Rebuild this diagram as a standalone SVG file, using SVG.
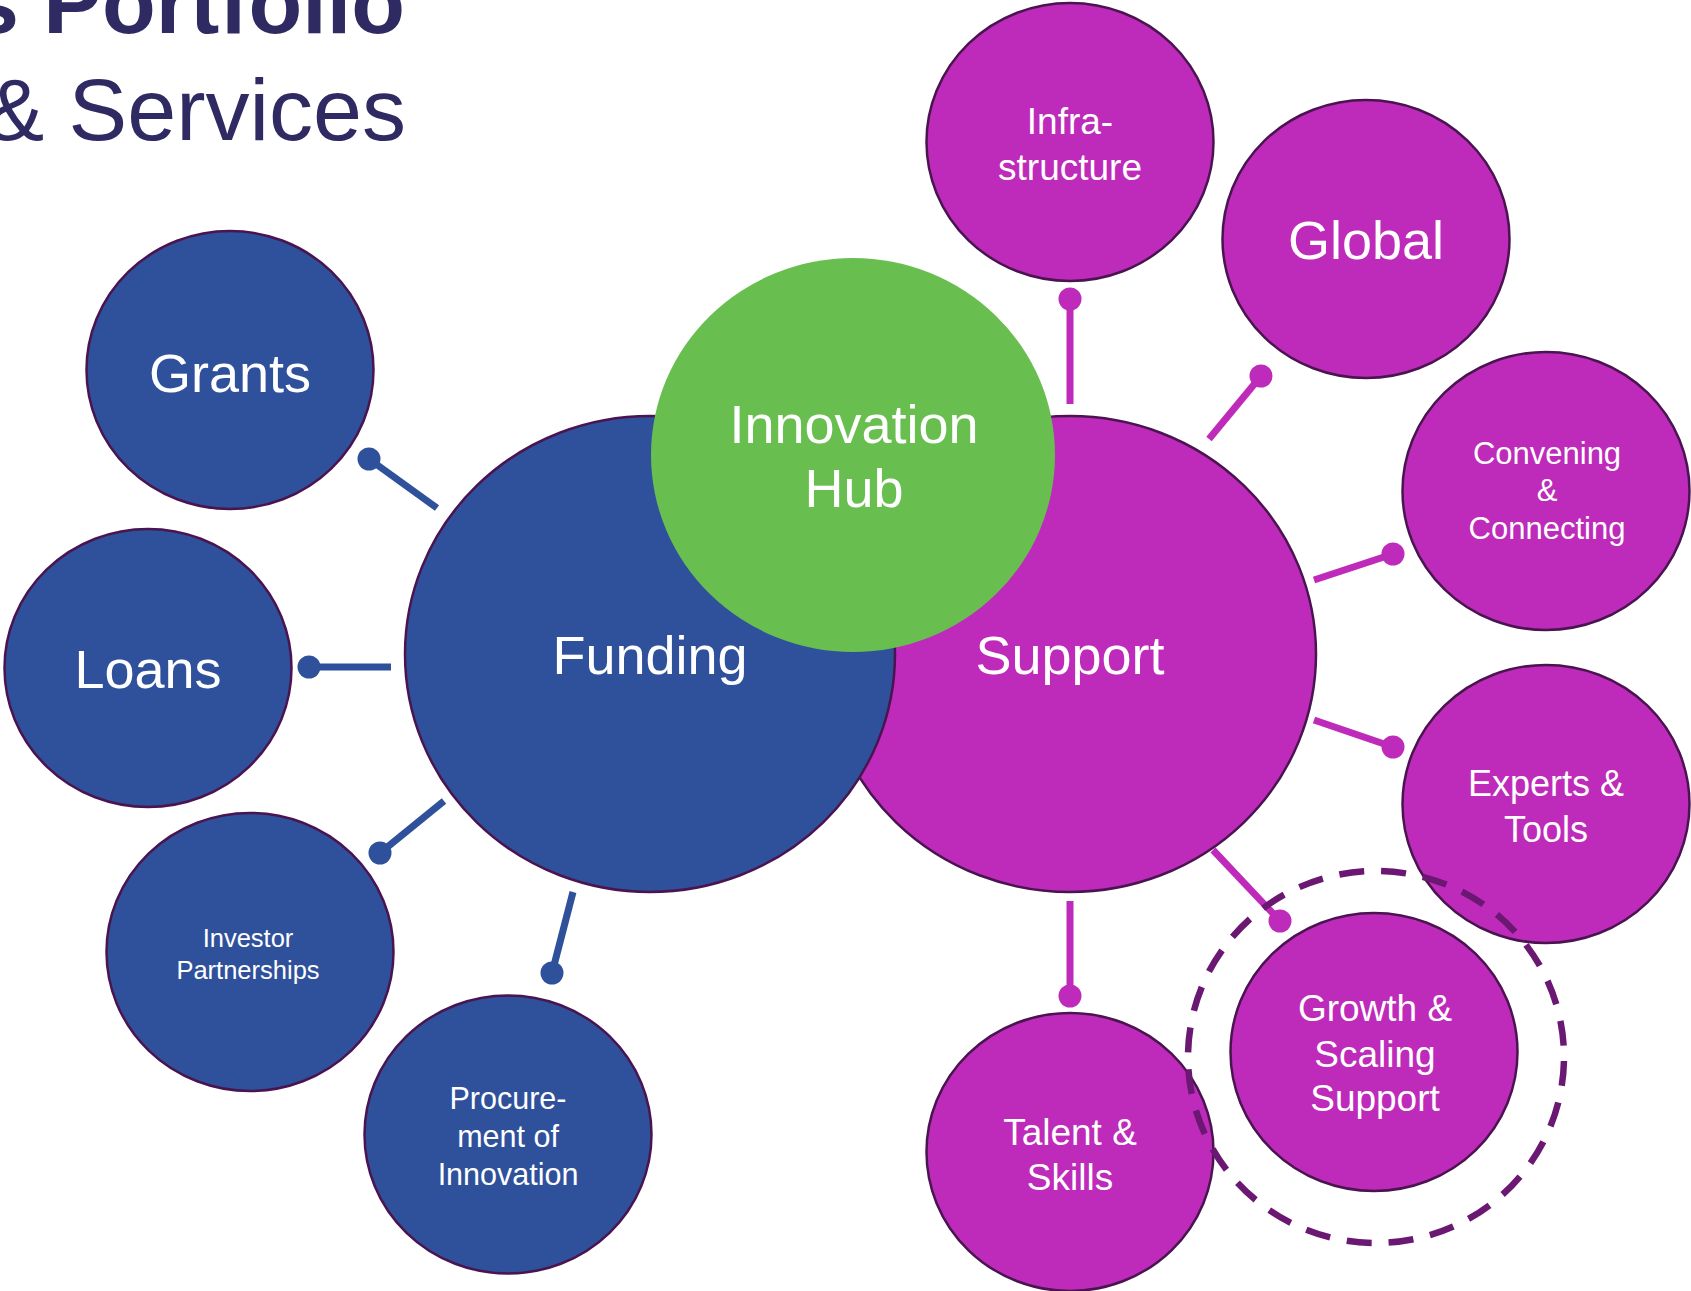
<svg xmlns="http://www.w3.org/2000/svg" width="1691" height="1291" viewBox="0 0 1691 1291">
<defs>
<style>
.title{font-family:"Liberation Sans",Arial,sans-serif;fill:#2F2B62;font-size:88px}
.lbl{font-family:"Liberation Sans",Arial,sans-serif;fill:#FFFFFF;text-anchor:middle}
.blue{fill:#2F519B;stroke:#4A1450;stroke-width:2.5}
.mag{fill:#BE2BBA;stroke:#4A1450;stroke-width:2.5}
.green{fill:#69BE50}
.cb{stroke:#2F519B;stroke-width:7;fill:none}
.cm{stroke:#BE2BBA;stroke-width:7;fill:none}
.db{fill:#2F519B}
.dm{fill:#BE2BBA}
</style>
</defs>
<rect width="1691" height="1291" fill="#FFFFFF"/>
<g id="title">
<text class="title" x="405" y="33" text-anchor="end" font-weight="bold">s Portfolio</text>
<text class="title" x="406" y="140" text-anchor="end">&amp; Services</text>
</g>
<g id="connectors">
<line class="cb" x1="437" y1="508" x2="369" y2="459"/><circle class="db" cx="369" cy="459" r="11.5"/>
<line class="cb" x1="391" y1="667" x2="309" y2="667"/><circle class="db" cx="309" cy="667" r="11.5"/>
<line class="cb" x1="444" y1="801" x2="380" y2="853"/><circle class="db" cx="380" cy="853" r="11.5"/>
<line class="cb" x1="573" y1="892" x2="552" y2="973"/><circle class="db" cx="552" cy="973" r="11.5"/>
<line class="cm" x1="1070" y1="404" x2="1070" y2="299"/><circle class="dm" cx="1070" cy="299" r="11.5"/>
<line class="cm" x1="1209" y1="439" x2="1261" y2="376"/><circle class="dm" cx="1261" cy="376" r="11.5"/>
<line class="cm" x1="1314" y1="580" x2="1393" y2="554"/><circle class="dm" cx="1393" cy="554" r="11.5"/>
<line class="cm" x1="1314" y1="720" x2="1393" y2="747"/><circle class="dm" cx="1393" cy="747" r="11.5"/>
<line class="cm" x1="1213" y1="850" x2="1280" y2="921"/><circle class="dm" cx="1280" cy="921" r="11.5"/>
<line class="cm" x1="1070" y1="901" x2="1070" y2="996"/><circle class="dm" cx="1070" cy="996" r="11.5"/>
</g>
<g id="support">
<ellipse class="mag" cx="1070" cy="654" rx="246" ry="238"/>
<text class="lbl" x="1070" y="674" font-size="54">Support</text>
</g>
<g id="funding">
<ellipse class="blue" cx="650" cy="654" rx="245" ry="238"/>
<text class="lbl" x="650" y="674" font-size="54">Funding</text>
</g>
<g id="innovation-hub">
<ellipse class="green" cx="853" cy="455" rx="202" ry="197"/>
<text class="lbl" x="854" y="443" font-size="54">Innovation</text>
<text class="lbl" x="854" y="507" font-size="54">Hub</text>
</g>
<g id="grants">
<ellipse class="blue" cx="230" cy="370" rx="143.5" ry="139"/>
<text class="lbl" x="230" y="392" font-size="54">Grants</text>
</g>
<g id="loans">
<ellipse class="blue" cx="148" cy="668" rx="143.5" ry="139"/>
<text class="lbl" x="148" y="688" font-size="54">Loans</text>
</g>
<g id="investor-partnerships">
<ellipse class="blue" cx="250" cy="952" rx="143.5" ry="139"/>
<text class="lbl" x="248" y="947" font-size="25.5">Investor</text>
<text class="lbl" x="248" y="979" font-size="25.5">Partnerships</text>
</g>
<g id="procurement">
<ellipse class="blue" cx="508" cy="1134.5" rx="143.5" ry="139"/>
<text class="lbl" x="508" y="1109" font-size="30.5">Procure-</text>
<text class="lbl" x="508" y="1147" font-size="30.5">ment of</text>
<text class="lbl" x="508" y="1185" font-size="30.5">Innovation</text>
</g>
<g id="infrastructure">
<ellipse class="mag" cx="1070" cy="142" rx="143.5" ry="139"/>
<text class="lbl" x="1070" y="134" font-size="37">Infra-</text>
<text class="lbl" x="1070" y="180" font-size="37">structure</text>
</g>
<g id="global">
<ellipse class="mag" cx="1366" cy="239" rx="143.5" ry="139"/>
<text class="lbl" x="1366" y="259" font-size="54">Global</text>
</g>
<g id="convening">
<ellipse class="mag" cx="1546" cy="491" rx="143.5" ry="139"/>
<text class="lbl" x="1547" y="464" font-size="31">Convening</text>
<text class="lbl" x="1547" y="501" font-size="31">&amp;</text>
<text class="lbl" x="1547" y="539" font-size="31">Connecting</text>
</g>
<g id="experts-tools">
<ellipse class="mag" cx="1546" cy="804" rx="143.5" ry="139"/>
<text class="lbl" x="1546" y="796" font-size="36">Experts &amp;</text>
<text class="lbl" x="1546" y="842" font-size="36">Tools</text>
</g>
<g id="talent-skills">
<ellipse class="mag" cx="1070" cy="1152" rx="143.5" ry="139"/>
<text class="lbl" x="1070" y="1145" font-size="37">Talent &amp;</text>
<text class="lbl" x="1070" y="1190" font-size="37">Skills</text>
</g>
<g id="growth-scaling">
<ellipse class="mag" cx="1374" cy="1052" rx="143.5" ry="139"/>
<text class="lbl" x="1375" y="1021" font-size="37">Growth &amp;</text>
<text class="lbl" x="1375" y="1067" font-size="37">Scaling</text>
<text class="lbl" x="1375" y="1111" font-size="37">Support</text>
</g>
<g id="highlight">
<ellipse cx="1376" cy="1057" rx="188" ry="186" fill="none" stroke="#6B1872" stroke-width="6.5" stroke-dasharray="25 17" stroke-dashoffset="38"/>
</g>
</svg>
